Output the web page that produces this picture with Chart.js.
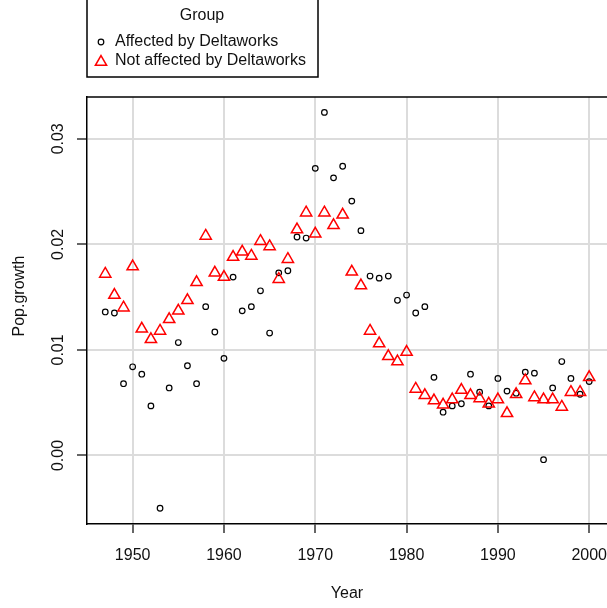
<!DOCTYPE html>
<html>
<head>
<meta charset="utf-8">
<script src="https://cdn.jsdelivr.net/npm/chart.js@4.4.1/dist/chart.umd.min.js"></script>
<style>
  body { margin: 0; background: #fff; }
  #wrap { width: 607px; height: 608px; }
</style>
</head>
<body>
<div id="wrap"><canvas id="myChart" width="607" height="608"></canvas></div>
<script>
// years on the x axis
const years = [1947, 1948, 1949, 1950, 1951, 1952, 1953, 1954, 1955, 1956,
	1957, 1958, 1959, 1960, 1961, 1962, 1963, 1964, 1965, 1966,
	1967, 1968, 1969, 1970, 1971, 1972, 1973, 1974, 1975, 1976,
	1977, 1978, 1979, 1980, 1981, 1982, 1983, 1984, 1985, 1986,
	1987, 1988, 1989, 1990, 1991, 1992, 1993, 1994, 1995, 1996,
	1997, 1998, 1999, 2000];

// Pop.growth
const affected = [0.0136, 0.0135, 0.0068, 0.0084, 0.0077, 0.0047, -0.0050, 0.0064, 0.0107, 0.0085,
	0.0068, 0.0141, 0.0117, 0.0092, 0.0169, 0.0137, 0.0141, 0.0156, 0.0116, 0.0173,
	0.0175, 0.0207, 0.0206, 0.0272, 0.0325, 0.0263, 0.0274, 0.0241, 0.0213, 0.0170,
	0.0168, 0.0170, 0.0147, 0.0152, 0.0135, 0.0141, 0.0074, 0.0041, 0.0047, 0.0049,
	0.0077, 0.0060, 0.0047, 0.0073, 0.0061, 0.0059, 0.0079, 0.0078, -0.0004, 0.0064,
	0.0089, 0.0073, 0.0058, 0.0070];

const notAffected = [0.0172, 0.0152, 0.0140, 0.0179, 0.0120, 0.0110, 0.0118, 0.0129, 0.0137, 0.0147,
	0.0164, 0.0208, 0.0173, 0.0169, 0.0188, 0.0193, 0.0189, 0.0203, 0.0198, 0.0167,
	0.0186, 0.0214, 0.0230, 0.0210, 0.0230, 0.0218, 0.0228, 0.0174, 0.0161, 0.0118,
	0.0106, 0.0094, 0.0089, 0.0098, 0.0063, 0.0057, 0.0052, 0.0048, 0.0053, 0.0062,
	0.0057, 0.0054, 0.0049, 0.0053, 0.0040, 0.0058, 0.0071, 0.0055, 0.0053, 0.0053,
	0.0046, 0.0060, 0.0060, 0.0074];

const groupNames = ['Affected by Deltaworks', 'Not affected by Deltaworks'];
const legendTitle = 'Group';
const xTicks = [1950, 1960, 1970, 1980, 1990, 2000];
const yTicks = [0.00, 0.01, 0.02, 0.03];
const xTitle = 'Year';
const yTitle = 'Pop.growth';

const fontFamily = '"Liberation Sans", Arial, Helvetica, sans-serif';
Chart.defaults.font.family = fontFamily;
Chart.defaults.font.size = 16;
Chart.defaults.color = '#111';

function toPoints(vals) {
	return years.map((y, i) => ({x: y, y: vals[i]}));
}

// draws the boxed legend, the top border and the y title
const extras = {
	id: 'extras',
	afterDraw(chart) {
		const ctx = chart.ctx;
		const area = chart.chartArea;
		ctx.save();
		ctx.strokeStyle = '#000';
		ctx.lineWidth = 1.5;
		ctx.beginPath();
		ctx.moveTo(area.left, area.top);
		ctx.lineTo(area.right, area.top);
		ctx.stroke();

		// legend box
		ctx.strokeRect(87, -1, 231, 78);
		ctx.fillStyle = '#111';
		ctx.font = '16px ' + fontFamily;
		ctx.textBaseline = 'middle';
		ctx.textAlign = 'center';
		ctx.fillText(legendTitle, 202, 16);
		ctx.textAlign = 'left';
		ctx.fillText(groupNames[0], 115, 42);
		ctx.fillText(groupNames[1], 115, 61);

		ctx.fillStyle = 'rgba(0,0,0,0)';
		ctx.strokeStyle = '#000';
		ctx.lineWidth = 1.2;
		Chart.helpers.drawPoint(ctx, {pointStyle: 'circle', radius: 2.8, borderWidth: 1.2}, 101, 42);
		ctx.strokeStyle = '#ff0000';
		ctx.lineWidth = 1.5;
		Chart.helpers.drawPoint(ctx, {pointStyle: 'triangle', radius: 6.5, borderWidth: 1.5}, 101, 62);

		// y axis title
		ctx.translate(20, 296);
		ctx.rotate(-Math.PI / 2);
		ctx.textAlign = 'center';
		ctx.fillStyle = '#111';
		ctx.fillText(yTitle, 0, 0);
		ctx.restore();
	}
};

const myChart = document.getElementById('myChart');

let scatter = new Chart(myChart, {
	type: 'scatter',
	data: {
		datasets: [{
			label: groupNames[0],
			data: toPoints(affected),
			pointStyle: 'circle',
			pointRadius: 2.8,
			pointBorderWidth: 1.2,
			borderColor: '#000',
			backgroundColor: 'rgba(0,0,0,0)',
			order: 1
		}, {
			label: groupNames[1],
			data: toPoints(notAffected),
			pointStyle: 'triangle',
			pointRadius: 6.5,
			pointBorderWidth: 1.5,
			borderColor: '#ff0000',
			backgroundColor: 'rgba(0,0,0,0)',
			order: 0
		}]
	},
	options: {
		responsive: false,
		animation: false,
		events: [],
		layout: {autoPadding: false, padding: {top: 97, left: 0, right: 0, bottom: 0}},
		plugins: {
			legend: {display: false},
			tooltip: {enabled: false}
		},
		scales: {
			x: {
				type: 'linear',
				min: 1945,
				max: 2001.95,
				afterFit: s => {
					s.height = 84;
					s.paddingLeft = 0;
					s.paddingRight = 0;
				},
				afterBuildTicks: s => { s.ticks = xTicks.map(v => ({value: v})); },
				ticks: {
					callback: v => String(v),
					padding: 13,
					maxRotation: 0
				},
				grid: {
					color: '#dcdcdc',
					lineWidth: 2,
					tickColor: '#333',
					tickWidth: 1.5,
					tickLength: 9
				},
				border: {color: '#000', width: 1.5},
				title: {
					display: true,
					text: xTitle,
					padding: {top: 0, bottom: 5}
				}
			},
			y: {
				min: -0.00649,
				max: 0.03396,
				afterFit: s => {
					s.width = 87;
					s.paddingTop = 0;
					s.paddingBottom = 0;
				},
				afterBuildTicks: s => { s.ticks = yTicks.map(v => ({value: v})); },
				ticks: {
					callback: v => v.toFixed(2),
					minRotation: 90,
					maxRotation: 90,
					crossAlign: 'center',
					padding: 3
				},
				grid: {
					color: '#dcdcdc',
					lineWidth: 2,
					tickColor: '#333',
					tickWidth: 1.5,
					tickLength: 10
				},
				border: {color: '#000', width: 1.5}
			}
		}
	},
	plugins: [extras]
});
</script>
</body>
</html>
